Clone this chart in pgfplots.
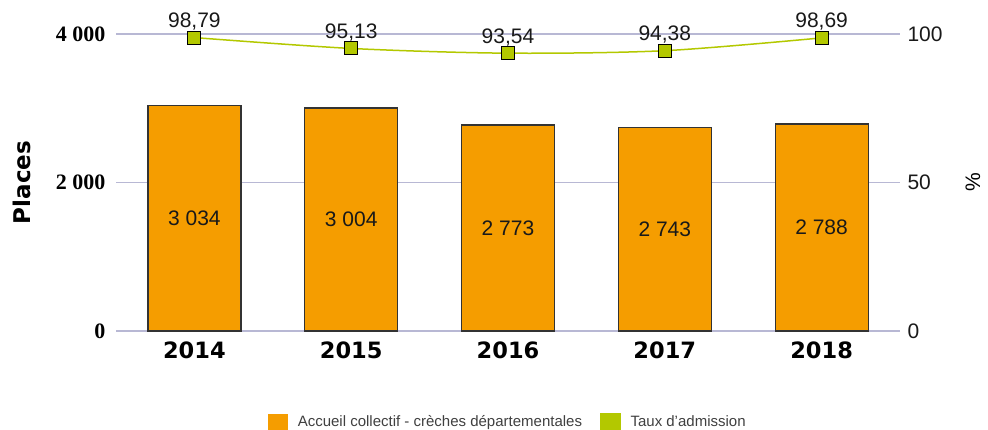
\documentclass[border=0pt]{standalone}
\usepackage{pgfplots}
\pgfplotsset{compat=1.18}
\usepackage{fontspec}
\setmainfont{Liberation Sans}
\newfontfamily\serifbf{Liberation Serif}
\newfontfamily\dejab{DejaVu Sans}
\definecolor{barorange}{HTML}{F59D00}
\definecolor{linegreen}{HTML}{B3C800}
\definecolor{gridc}{HTML}{B8B8D4}
\begin{document}
\begin{tikzpicture}
\pgfplotsset{
  base/.style={
    at={(116pt,99pt)}, anchor=south west,
    scale only axis, width=784pt, height=297pt,
    xmin=-0.5, xmax=4.5,
    axis line style={draw=none},
    major tick length=0pt,
    clip=false,
    /pgf/number format/assume math mode=true,
  }
}
\begin{axis}[base,
  ymin=0, ymax=4000,
  ytick={0,2000,4000},
  yticklabels={0,{2 000},{4 000}},
  yticklabel style={font=\fontsize{22}{22}\selectfont\serifbf\bfseries, xshift=-7pt},
  ymajorgrids, grid style={gridc, line width=1.2pt},
  xtick={0,1,2,3,4},
  xticklabels={2014,2015,2016,2017,2018},
  xticklabel style={font=\fontsize{22.5}{22.5}\selectfont\dejab\bfseries, yshift=-7pt},
  ylabel={Places},
  ylabel style={font=\fontsize{23}{23}\selectfont\dejab\bfseries, at={(axis description cs:-0.12,0.5)}, anchor=center},
  /pgf/number format/1000 sep={\ },
]
\addplot[ybar, bar width=93pt, fill=barorange, draw=black!80, line width=1.2pt,
  visualization depends on=rawy\as\rawy,
  nodes near coords,
  every node near coord/.append style={anchor=center, shift={(axis direction cs:0,-\rawy/2)}, font=\fontsize{21}{21}\selectfont, text=black!90}]
  coordinates {(0,3034) (1,3004) (2,2773) (3,2743) (4,2788)};
\end{axis}
\begin{axis}[base,
  ymin=0, ymax=100,
  ytick={0,50,100},
  yticklabels={0,50,100},
  axis y line*=right,
  axis x line=none,
  yticklabel style={font=\fontsize{21}{21}\selectfont, xshift=4pt, text=black!90},
  ylabel={\%},
  ylabel style={font=\fontsize{21}{21}\selectfont, at={(axis description cs:1.093,0.5)}, anchor=center},
  /pgf/number format/.cd, use comma, fixed, precision=2, fixed zerofill,
  /pgfplots/.cd,
  legend style={at={(axis description cs:0.5,-0.306)}, anchor=center, draw=none,
    legend columns=2, font=\fontsize{15}{15}\selectfont, text=black!75,
    /tikz/every odd column/.append style={column sep=8pt},
    /tikz/every even column/.append style={column sep=16pt}},
]
\addlegendimage{legend image code/.code={\fill[barorange] (0pt,-8pt) rectangle (19pt,8pt);}}
\addlegendentry{Accueil collectif - crèches départementales}
\addplot[smooth, tension=0.5, color=linegreen, line width=1.5pt, mark=square*, mark size=6.5pt,
  mark options={fill=linegreen, draw=black, line width=1pt},
  legend image code/.code={\fill[linegreen] (0pt,-8pt) rectangle (19pt,8pt);},
  nodes near coords,
  every node near coord/.append style={anchor=base, yshift=10pt, font=\fontsize{21}{21}\selectfont, text=black!90}]
  coordinates {(0,98.79) (1,95.13) (2,93.54) (3,94.38) (4,98.69)};
\addlegendentry{Taux d'admission}
\end{axis}
\pgfresetboundingbox
\path[use as bounding box] (0,0) rectangle (988pt,430pt);
\end{tikzpicture}
\end{document}
